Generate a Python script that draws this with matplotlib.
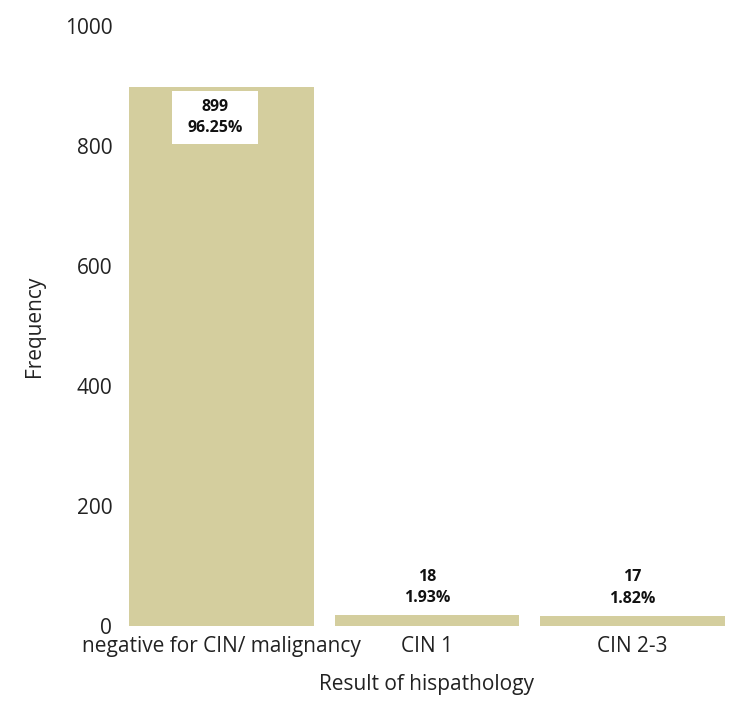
import matplotlib
matplotlib.use("Agg")
import matplotlib.pyplot as plt
from matplotlib.patches import Rectangle

categories = ["negative for CIN/ malignancy", "CIN 1", "CIN 2-3"]
counts = [899, 18, 17]
percents = ["96.25%", "1.93%", "1.82%"]
yticks = [0, 200, 400, 600, 800, 1000]

plt.rcParams['font.family'] = ['Open Sans', 'DejaVu Sans']

fig = plt.figure(figsize=(7.5, 7.25), dpi=100)
ax = fig.add_axes([129/750, 1 - 626/725, (725-129)/750, (626-26)/725])

x = list(range(len(categories)))
bars = ax.bar(x, counts, width=0.9, color="#D4CE9E")
ax.set_xlim(-0.45, 2.45)
ax.set_ylim(0, 1000)
ax.set_yticks(yticks)
ax.set_yticklabels([str(t) for t in yticks])
ax.set_xticks(x)
ax.set_xticklabels(categories)
for s in ax.spines.values():
    s.set_visible(False)
ax.tick_params(axis='both', length=0, labelsize=15, colors="#222222")
ax.tick_params(axis='y', pad=12)
ax.tick_params(axis='x', pad=7)

for i, (c, p) in enumerate(zip(counts, percents)):
    label = f"{c}\n{p}"
    if i == 0:
        top = c - 8
        ax.add_patch(Rectangle((i - 0.03 - 0.21, top - 88), 0.42, 88,
                               facecolor='white', edgecolor='none', zorder=3))
        ax.text(i - 0.03, top - 44, label, ha='center', va='center', fontsize=11.5,
                fontweight='bold', linespacing=1.45, color="#111111", zorder=4)
    else:
        ax.text(i, c + 15, label, ha='center', va='bottom', fontsize=11.5,
                fontweight='bold', linespacing=1.45, color="#111111")

ax.set_xlabel("Result of hispathology", fontsize=15, color="#222222")
ax.xaxis.set_label_coords(0.5, -0.08)
ax.set_ylabel("Frequency", fontsize=15, color="#222222")
ax.yaxis.set_label_coords(-0.141, 0.5)

fig.savefig("out.png", dpi=100)
